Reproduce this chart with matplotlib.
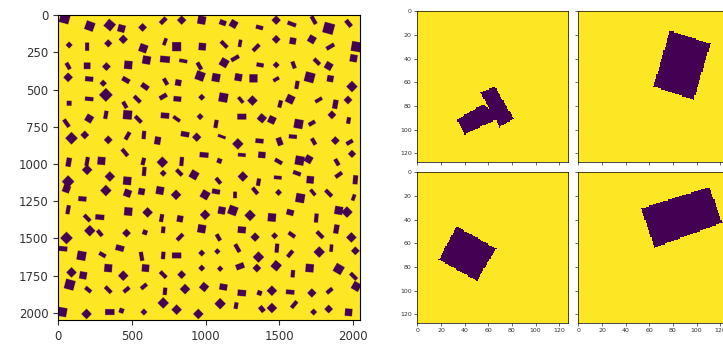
import numpy as np
import matplotlib
matplotlib.use("Agg")
import matplotlib.pyplot as plt
from matplotlib.path import Path

# ---------------- data: left mask (2048 x 2048), shapes as (x, y, w, h, angle_deg)
mask_size = 2048
band_00 = [(45,22,60,60,15),(215,74,55,55,20),(350,67,55,55,40),(430,90,45,45,15),(573,83,38,38,45),
           (713,38,28,50,45),(838,34,40,40,45),(974,34,50,50,10),(1117,51,42,32,20),(1190,60,45,45,30),
           (1366,83,45,25,15),(1479,34,40,40,45),(1585,60,55,25,20),(1733,34,25,55,-30),(1835,89,65,65,15),
           (1970,56,28,50,-40)]
band_01 = [(75,201,30,30,45),(197,212,25,50,0),(340,190,35,35,45),(442,163,40,40,45),(578,223,50,50,20),
           (725,179,22,45,20),(804,212,55,55,0),(978,212,45,45,5),(1126,197,25,55,-45),(1234,190,22,45,10),
           (1343,219,25,55,45),(1479,163,38,38,45),(1592,174,40,40,10),(1721,163,45,45,30),(1846,212,25,55,60),
           (2022,212,60,60,10),(2004,290,45,45,10)]
band_02 = [(68,342,25,45,-30),(197,340,40,40,0),(328,346,38,38,45),(476,335,50,50,5),(600,302,50,50,10),
           (725,297,60,40,5),(849,308,50,22,10),(958,342,25,50,-30),(1126,320,50,50,30),(1200,290,25,55,60),
           (1370,335,45,25,10),(1479,335,30,30,45),(1597,335,25,45,-20),(1755,313,25,50,-45),(1835,342,45,45,30)]
band_03 = [(68,418,42,42,45),(211,429,50,30,5),(306,458,32,32,45),(460,436,50,30,30),(589,480,50,32,35),
           (729,447,25,45,-30),(815,454,38,38,10),(963,409,55,55,20),(1071,420,50,50,10),(1223,418,45,45,10),
           (1325,425,50,50,0),(1479,431,22,40,60),(1620,469,25,50,10),(1706,418,60,60,15),(1846,427,40,40,10),
           (1993,480,50,50,45)]
band_04 = [(324,536,60,60,45),(211,563,52,25,5),(75,592,30,30,0),(453,603,25,45,-30),(537,565,25,55,-45),
           (713,547,50,28,-30),(809,563,48,32,5),(974,552,30,30,45),(1121,554,55,55,10),(1239,570,22,45,-40),
           (1318,574,45,45,45),(1506,597,25,45,15),(1574,565,50,50,25),(1767,570,22,48,60),(1880,599,32,55,10),
           (1966,570,38,38,45)]
band_05 = [(57,726,25,55,-35),(211,695,45,45,30),(324,670,25,50,10),(471,670,55,55,5),(544,700,25,55,-45),
           (725,675,52,35,5),(804,697,22,50,-55),(963,682,30,30,45),(1071,731,25,50,10),(1246,682,55,35,0),
           (1382,693,45,45,40),(1450,704,45,45,25),(1631,731,55,55,10),(1857,670,38,38,45),(1970,708,25,40,10),
           (1721,726,25,45,60)]
band_06 = [(91,827,55,55,45),(181,805,38,38,45),(340,838,38,38,45),(471,811,25,52,30),(582,805,25,50,5),
           (675,843,38,48,10),(861,800,52,32,10),(940,820,40,40,45),(1110,816,50,18,20),(1219,865,50,50,45),
           (1366,845,50,28,5),(1502,849,35,50,-20),(1592,816,50,25,5),(1733,849,25,45,-30),(1880,843,38,38,45),
           (1977,854,25,45,60),(1993,932,35,35,45)]
band_07 = [(453,923,25,55,-40),(72,988,32,55,10),(197,983,25,55,10),(294,979,48,48,5),(578,983,25,45,15),
           (707,988,50,50,45),(838,983,25,55,5),(990,939,55,32,5),(1094,979,30,30,20),(1246,939,48,22,5),
           (1382,939,45,38,5),(1495,983,25,50,-60),(1638,977,55,55,10),(1699,968,45,45,30),(1891,988,25,45,-30)]
band_08 = [(68,1118,55,55,45),(197,1039,45,45,45),(351,1084,45,45,45),(469,1113,50,50,5),(584,1050,25,55,5),
           (713,1062,30,30,45),(822,1057,25,50,-45),(922,1073,50,50,30),(1087,1113,25,45,-40),(1253,1084,45,45,45),
           (1359,1122,25,45,10),(1490,1091,48,22,5),(1620,1062,50,25,20),(1710,1106,45,45,5),(1903,1073,25,50,55),
           (2016,1106,30,55,5)]
band_09 = [(57,1167,45,45,20),(324,1178,50,50,45),(471,1196,45,45,20),(566,1185,40,40,10),(691,1178,48,48,10),
           (800,1207,45,45,45),(997,1207,50,50,30),(1071,1185,50,30,10),(1200,1207,22,40,0),(1336,1180,25,50,-40),
           (1495,1191,30,30,45),(1642,1229,55,55,10),(1728,1191,22,45,-40),(1835,1196,25,55,-45),(2004,1225,22,40,20),
           (165,1234,50,30,5)]
band_10 = [(68,1307,25,55,10),(197,1363,25,52,-45),(283,1357,55,32,5),(476,1319,50,50,5),(607,1325,45,45,45),
           (702,1363,25,48,10),(827,1368,38,40,10),(997,1341,45,45,45),(1110,1312,45,45,10),(1185,1312,55,55,20),
           (1302,1345,50,50,45),(1450,1359,50,50,5),(1574,1325,45,35,15),(1751,1363,25,55,5),(1903,1312,50,50,10),
           (1959,1323,50,50,45)]
band_11 = [(215,1448,50,50,45),(283,1464,25,45,-40),(464,1464,38,38,45),(589,1459,30,30,20),(713,1442,25,40,5),
           (827,1491,25,52,45),(974,1435,50,50,10),(1087,1493,25,45,-30),(1246,1442,50,40,5),(1336,1491,40,40,45),
           (1468,1482,30,30,45),(1585,1475,25,48,-55),(1776,1475,25,55,-45),(1887,1437,32,55,10),(1989,1493,45,45,45),
           (57,1497,55,55,45),(34,1569,52,30,5)]
band_12 = [(159,1616,55,55,10),(301,1609,25,45,-60),(419,1565,52,35,15),(566,1620,25,55,-10),(713,1614,25,45,5),
           (804,1614,58,35,0),(974,1598,30,30,45),(1080,1587,28,28,45),(1216,1565,25,55,-30),(1359,1625,50,50,45),
           (1484,1565,25,55,5),(1574,1603,25,50,40),(1771,1591,50,50,45),(1853,1565,22,45,5),(2016,1583,38,38,45)]
band_13 = [(91,1728,45,45,45),(170,1748,45,45,10),(79,1810,60,60,15),(340,1699,48,48,5),(442,1750,45,45,45),
           (593,1699,45,45,5),(713,1743,25,52,-45),(838,1743,38,38,45),(974,1699,30,30,45),(1099,1703,28,28,45),
           (1234,1687,52,35,-20),(1348,1699,38,38,45),(1479,1683,50,50,40),(1592,1737,25,45,5),(1706,1699,50,50,5),
           (1903,1705,55,55,30),(2004,1754,25,55,-45),(2022,1822,50,50,30)]
band_14 = [(204,1844,25,45,-50),(340,1844,25,52,-45),(464,1844,25,45,50),(582,1822,25,45,50),(725,1855,25,45,5),
           (861,1840,45,45,45),(990,1826,45,45,40),(1121,1826,48,38,10),(1246,1866,52,38,5),(1366,1866,30,30,20),
           (1450,1851,45,45,45),(1574,1860,52,28,5),(1721,1866,40,40,45),(1841,1851,25,45,50)]
band_15 = [(29,1994,55,55,10),(193,2007,45,45,45),(351,1994,58,35,0),(430,1985,30,30,20),(582,1994,30,30,45),
           (713,1933,50,50,45),(804,1978,45,45,45),(951,2007,45,45,45),(1099,1938,50,50,45),(1207,1951,25,40,10),
           (1382,1974,30,40,-40),(1450,1967,45,45,45),(1601,1944,25,52,40),(1733,1994,30,30,45),(1835,1974,38,38,45),
           (1970,1996,45,45,5)]
left_bands = [band_00, band_01, band_02, band_03, band_04, band_05, band_06, band_07,
              band_08, band_09, band_10, band_11, band_12, band_13, band_14, band_15]

# ---------------- data: right crops (128 x 128), polygons as (x, y) vertices
crop_size = 128
crop_tl = [[(33, 92), (40, 104), (70, 90), (55, 79)],
           [(53, 69), (65, 64), (81, 91), (69, 98)]]
crop_tr = [[(77, 17), (111, 28), (97, 75), (63, 64)]]
crop_bl = [[(33, 46), (66, 65), (50, 92), (18, 74)]]
crop_br = [[(110, 13), (121, 43), (64, 64), (53, 31)]]

left_xticks = [0, 500, 1000, 1500, 2000]
left_yticks = [0, 250, 500, 750, 1000, 1250, 1500, 1750, 2000]
crop_ticks = [0, 20, 40, 60, 80, 100, 120]

blur_grow = 1.1  # blurred edges in the reference make the blobs look a bit larger


def rasterize_polys(size, polys):
    img = np.ones((size, size))
    for poly in polys:
        poly = np.asarray(poly, float)
        x0 = max(int(np.floor(poly[:, 0].min())), 0)
        x1 = min(int(np.ceil(poly[:, 0].max())) + 1, size)
        y0 = max(int(np.floor(poly[:, 1].min())), 0)
        y1 = min(int(np.ceil(poly[:, 1].max())) + 1, size)
        if x1 <= x0 or y1 <= y0:
            continue
        xx, yy = np.meshgrid(np.arange(x0, x1), np.arange(y0, y1))
        inside = Path(poly).contains_points(np.c_[xx.ravel(), yy.ravel()]).reshape(xx.shape)
        img[y0:y1, x0:x1][inside] = 0
    return img


def rect_poly(x, y, w, h, ang):
    t = np.deg2rad(ang)
    c, s = np.cos(t), np.sin(t)
    w, h = w * blur_grow, h * blur_grow
    pts = []
    for dx, dy in [(-w / 2, -h / 2), (w / 2, -h / 2), (w / 2, h / 2), (-w / 2, h / 2)]:
        pts.append((x + dx * c - dy * s, y + dx * s + dy * c))
    return pts


left_polys = [rect_poly(*r) for band in left_bands for r in band]
left_img = rasterize_polys(mask_size, left_polys)

W, H = 723, 345
fig = plt.figure(figsize=(W / 100, H / 100), dpi=100)
tc = "#333333"

axL = fig.add_axes([58 / W, (H - 320) / H, 302 / W, 305 / H])
axL.imshow(left_img, cmap="viridis", vmin=0, vmax=1, aspect="auto", interpolation="antialiased")
axL.set_xticks(left_xticks)
axL.set_yticks(left_yticks)
axL.tick_params(labelsize=8.5, colors=tc, length=3.5, width=0.8)
for sp in axL.spines.values():
    sp.set_linewidth(0.8)

size_px = 151.5
pos = {
    "tl": (416.7, 10.7),
    "tr": (577.7, 10.7),
    "bl": (416.7, 171.7),
    "br": (577.7, 171.7),
}
crops = {"tl": crop_tl, "tr": crop_tr, "bl": crop_bl, "br": crop_br}
for key, (lx, ty) in pos.items():
    ax = fig.add_axes([lx / W, (H - ty - size_px) / H, size_px / W, size_px / H])
    img = rasterize_polys(crop_size, crops[key])
    ax.imshow(img, cmap="viridis", vmin=0, vmax=1, aspect="auto", interpolation="nearest")
    ax.set_xticks(crop_ticks)
    ax.set_yticks(crop_ticks)
    ax.tick_params(labelsize=4.5, colors=tc, length=2, width=0.5, pad=1.5)
    for sp in ax.spines.values():
        sp.set_linewidth(0.5)
    if key in ("tl", "tr"):
        ax.set_xticklabels([])
    if key in ("tr", "br"):
        ax.set_yticklabels([])

fig.savefig("out.png", dpi=100)
